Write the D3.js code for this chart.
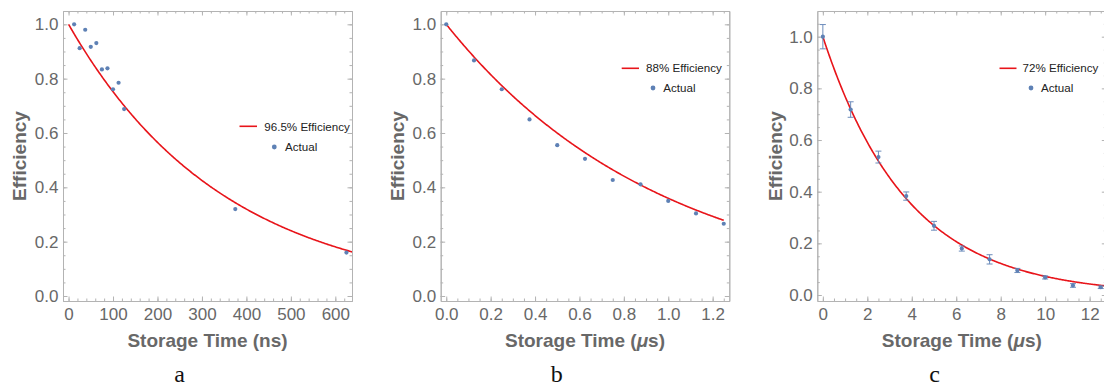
<!DOCTYPE html>
<html><head><meta charset="utf-8">
<script src="https://cdn.jsdelivr.net/npm/d3@7"></script>
<style>
html,body{margin:0;padding:0;background:#fff;}
svg{display:block;font-family:"Liberation Sans",Arial,sans-serif;}
</style></head>
<body>
<svg id="chart" width="1104" height="387"></svg>
<script>
// ---------- data ----------
const aTimes = [12.5, 25, 37.5, 50, 62.5, 75, 87.5, 100, 112.5, 125, 375, 625];
const aValues = [1.0, 0.912, 0.98, 0.917, 0.931, 0.834, 0.838, 0.761, 0.785, 0.688, 0.320, 0.160];
const aFitRate = 0.965, aFitStep = 12.5;
const aFitLabel = "96.5% Efficiency";
const aXTicks = [0, 100, 200, 300, 400, 500, 600];

const bTimes = [0, 0.125, 0.25, 0.375, 0.5, 0.625, 0.75, 0.875, 1.0, 1.125, 1.25];
const bValues = [1.0, 0.867, 0.761, 0.650, 0.555, 0.505, 0.427, 0.411, 0.350, 0.304, 0.266];
const bFitRate = 0.88, bFitStep = 0.125;
const bFitLabel = "88% Efficiency";
const bXTicks = [0, 0.2, 0.4, 0.6, 0.8, 1.0, 1.2];

const cTimes = [0, 1.25, 2.5, 3.75, 5, 6.25, 7.5, 8.75, 10, 11.25, 12.5];
const cValues = [1.0, 0.718, 0.534, 0.383, 0.268, 0.180, 0.138, 0.095, 0.068, 0.037, 0.030];
const cErrors = [0.047, 0.030, 0.023, 0.016, 0.017, 0.010, 0.018, 0.008, 0.006, 0.007, 0.005];
const cFitRate = 0.72, cFitStep = 1.25;
const cFitLabel = "72% Efficiency";
const cXTicks = [0, 2, 4, 6, 8, 10, 12];

const yTicks = [0, 0.2, 0.4, 0.6, 0.8, 1.0];
const yTitle = "Efficiency";
const actualLabel = "Actual";
const subLabels = ["a", "b", "c"];

// ---------- layout ----------
const panels = [
  {sub: subLabels[0], t: aTimes, v: aValues, rate: aFitRate, step: aFitStep, fitLabel: aFitLabel,
   xTicks: aXTicks, xFmt: d3.format("d"), xMinor: 20, unit: "ns",
   f: {l: 63, r: 352, t: 11, b: 301}, xDom: [-12.5, 637.5], yDom: [-0.0184, 1.049], fitEnd: 645,
   leg: {l0: 239.5, l1: 257, ly: 126.3, tx: 264.3, ty: 130.5, dx: 274.3, dy: 147, ax: 285, ay: 150.7},
   subX: 179.7, titleX: 25.5},
  {sub: subLabels[1], t: bTimes, v: bValues, rate: bFitRate, step: bFitStep, fitLabel: bFitLabel,
   xTicks: bXTicks, xFmt: d3.format(".1f"), xMinor: 0.05, unit: "μs",
   f: {l: 440.7, r: 729.3, t: 11, b: 301}, xDom: [-0.025, 1.275], yDom: [-0.0184, 1.049], fitEnd: 1.25,
   leg: {l0: 621.7, l1: 639, ly: 68.3, tx: 646, ty: 72.3, dx: 653, dy: 88, ax: 663.3, ay: 92.3},
   subX: 556.7, titleX: 403.5},
  {sub: subLabels[2], t: cTimes, v: cValues, err: cErrors, rate: cFitRate, step: cFitStep, fitLabel: cFitLabel,
   xTicks: cXTicks, xFmt: d3.format("d"), xMinor: 0.5, unit: "μs",
   f: {l: 817.3, r: 1106.3, t: 11, b: 301}, xDom: [-0.25, 12.75], yDom: [-0.0232, 1.0995], fitEnd: 12.75,
   leg: {l0: 999.5, l1: 1016.5, ly: 68.3, tx: 1022.5, ty: 72.3, dx: 1031, dy: 88, ax: 1041, ay: 92.3},
   subX: 934.5, titleX: 782}
];

const frameColor = "#b3b3b3";
const labelColor = "#686868";
const dotColor = "#5e81b5";
const fitColor = "#e8141a";

const svg = d3.select("#chart");

panels.forEach((p, i) => {
  const g = svg.append("g");
  const x = d3.scaleLinear().domain(p.xDom).range([p.f.l, p.f.r]);
  const y = d3.scaleLinear().domain(p.yDom).range([p.f.b, p.f.t]);
  const xMinorVals = d3.range(0, p.xDom[1], p.xMinor).filter(d => d >= p.xDom[0]);
  const yMinorVals = d3.range(0, p.yDom[1], 0.05);

  const styleAxis = sel => {
    sel.selectAll(".domain").attr("stroke", frameColor).attr("stroke-width", 1);
    sel.selectAll(".tick line").attr("stroke", frameColor).attr("stroke-width", 1);
    sel.selectAll(".tick text").attr("fill", labelColor).attr("font-size", 17)
      .attr("font-family", '"Liberation Sans",Arial,sans-serif');
  };

  // minor ticks (all four sides)
  g.append("g").attr("transform", `translate(0,${p.f.b})`)
    .call(d3.axisBottom(x).tickValues(xMinorVals).tickSizeInner(-2.5).tickSizeOuter(0).tickFormat(""))
    .call(styleAxis);
  g.append("g").attr("transform", `translate(0,${p.f.t})`)
    .call(d3.axisTop(x).tickValues(xMinorVals).tickSizeInner(-2.5).tickSizeOuter(0).tickFormat(""))
    .call(styleAxis);
  g.append("g").attr("transform", `translate(${p.f.l},0)`)
    .call(d3.axisLeft(y).tickValues(yMinorVals).tickSizeInner(-2.5).tickSizeOuter(0).tickFormat(""))
    .call(styleAxis);
  g.append("g").attr("transform", `translate(${p.f.r},0)`)
    .call(d3.axisRight(y).tickValues(yMinorVals).tickSizeInner(-2.5).tickSizeOuter(0).tickFormat(""))
    .call(styleAxis);

  // major ticks with labels
  g.append("g").attr("transform", `translate(0,${p.f.b})`)
    .call(d3.axisBottom(x).tickValues(p.xTicks).tickSizeInner(-4.5).tickSizeOuter(0).tickPadding(6.5).tickFormat(p.xFmt))
    .call(styleAxis);
  g.append("g").attr("transform", `translate(${p.f.l},0)`)
    .call(d3.axisLeft(y).tickValues(yTicks).tickSizeInner(-4.5).tickSizeOuter(0).tickPadding(4.5).tickFormat(d3.format(".1f")))
    .call(styleAxis);
  g.append("g").attr("transform", `translate(0,${p.f.t})`)
    .call(d3.axisTop(x).tickValues(p.xTicks).tickSizeInner(-4.5).tickSizeOuter(0).tickFormat(""))
    .call(styleAxis);
  g.append("g").attr("transform", `translate(${p.f.r},0)`)
    .call(d3.axisRight(y).tickValues(yTicks).tickSizeInner(-4.5).tickSizeOuter(0).tickFormat(""))
    .call(styleAxis);

  // clip
  const cid = "clip" + i;
  svg.append("clipPath").attr("id", cid).append("rect")
    .attr("x", p.f.l).attr("y", p.f.t).attr("width", p.f.r - p.f.l).attr("height", p.f.b - p.f.t);
  const plot = g.append("g").attr("clip-path", `url(#${cid})`);

  // fit curve: efficiency per storage step
  const fitT = d3.range(0, p.fitEnd + 1e-9, p.fitEnd / 300);
  plot.append("path")
    .datum(fitT)
    .attr("fill", "none").attr("stroke", fitColor).attr("stroke-width", 1.6)
    .attr("d", d3.line().x(t => x(t)).y(t => y(Math.pow(p.rate, t / p.step))));

  // error bars
  if (p.err) {
    const eb = plot.append("g").attr("stroke", dotColor).attr("stroke-width", 1).attr("opacity", 0.9);
    p.t.forEach((t, k) => {
      const x0 = x(t), y1 = y(p.v[k] + p.err[k]), y2 = y(p.v[k] - p.err[k]);
      eb.append("line").attr("x1", x0).attr("x2", x0).attr("y1", y1).attr("y2", y2);
      eb.append("line").attr("x1", x0 - 3).attr("x2", x0 + 3).attr("y1", y1).attr("y2", y1);
      eb.append("line").attr("x1", x0 - 3).attr("x2", x0 + 3).attr("y1", y2).attr("y2", y2);
    });
  }

  // data points
  plot.selectAll("circle.pt").data(p.t.map((t, k) => [t, p.v[k]]))
    .enter().append("circle").attr("class", "pt")
    .attr("cx", d => x(d[0])).attr("cy", d => y(d[1])).attr("r", 2.1).attr("fill", dotColor);

  // axis titles
  const xt = g.append("text")
    .attr("x", (p.f.l + p.f.r) / 2).attr("y", 346.5).attr("text-anchor", "middle")
    .attr("font-size", 19).attr("font-weight", "bold").attr("fill", labelColor);
  if (p.unit === "ns") {
    xt.text("Storage Time (ns)");
  } else {
    xt.append("tspan").text("Storage Time (");
    xt.append("tspan").attr("font-style", "italic").text("μ");
    xt.append("tspan").text("s)");
  }
  g.append("text")
    .attr("transform", `translate(${p.titleX},${(p.f.t + p.f.b) / 2}) rotate(-90)`)
    .attr("text-anchor", "middle").attr("font-size", 19).attr("font-weight", "bold")
    .attr("fill", labelColor).text(yTitle);

  // legend
  const L = p.leg;
  g.append("line").attr("x1", L.l0).attr("x2", L.l1).attr("y1", L.ly).attr("y2", L.ly)
    .attr("stroke", fitColor).attr("stroke-width", 1.6);
  g.append("text").attr("x", L.tx).attr("y", L.ty).attr("font-size", 11.6).attr("fill", "#222").text(p.fitLabel);
  g.append("circle").attr("cx", L.dx).attr("cy", L.dy).attr("r", 2.4).attr("fill", dotColor);
  g.append("text").attr("x", L.ax).attr("y", L.ay).attr("font-size", 11.6).attr("fill", "#222").text(actualLabel);

  // sub label
  g.append("text").attr("x", p.subX).attr("y", 381.5).attr("text-anchor", "middle")
    .attr("font-family", '"Liberation Serif","Times New Roman",serif').attr("font-size", 24)
    .attr("fill", "#111").text(p.sub);
});
</script>
</body></html>
